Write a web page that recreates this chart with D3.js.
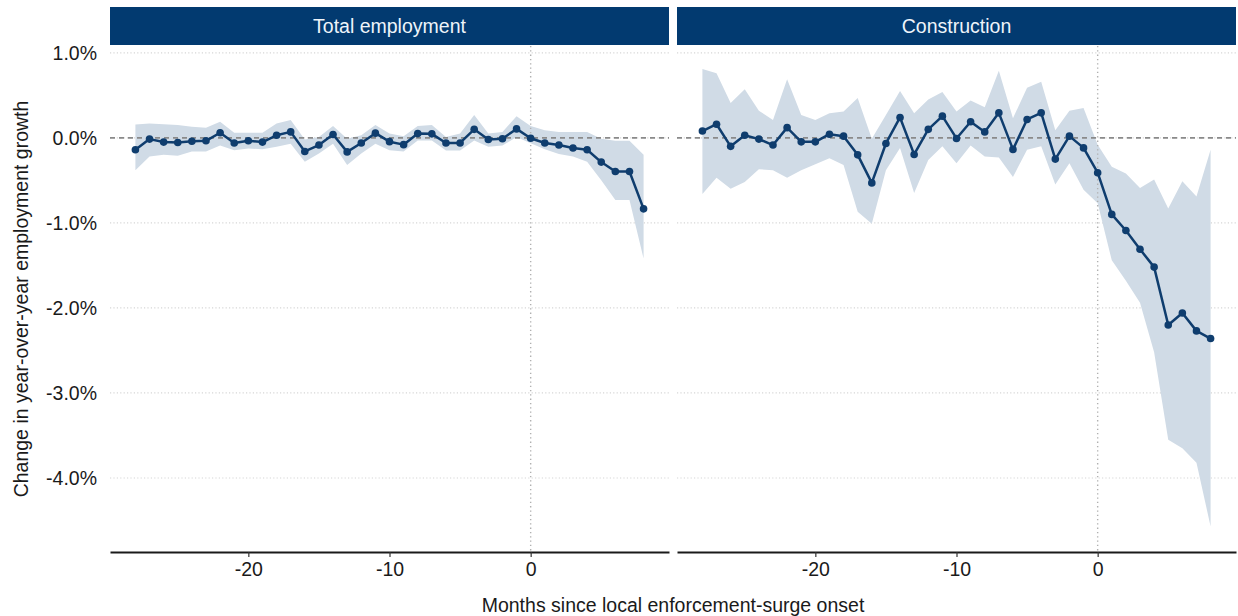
<!DOCTYPE html>
<html>
<head>
<meta charset="utf-8">
<script src="https://cdn.jsdelivr.net/npm/d3@7"></script>
<style>
  html, body { margin: 0; padding: 0; background: #ffffff; }
  svg { display: block; font-family: "Liberation Sans", Arial, sans-serif; }
</style>
</head>
<body>
<svg id="chart" width="1238" height="616"></svg>
<script>
// Event-study estimates: months relative to the enforcement surge
const months = d3.range(-28, 9);

const panelTitles = ["Total employment", "Construction"];

// Total employment: point estimates and 95% band (percentage points)
const totalEst = [-0.14, -0.015, -0.05, -0.055, -0.04, -0.035, 0.06, -0.06, -0.035, -0.05,
  0.03, 0.07, -0.16, -0.085, 0.04, -0.165, -0.06, 0.055, -0.045, -0.08,
  0.05, 0.047, -0.06, -0.06, 0.10, -0.02, -0.01, 0.105, -0.005, -0.06,
  -0.085, -0.12, -0.14, -0.285, -0.395, -0.395, -0.835];
const totalHi = [0.157, 0.17, 0.16, 0.15, 0.13, 0.12, 0.19, 0.06, 0.06, 0.06,
  0.17, 0.21, -0.02, 0.01, 0.14, -0.01, 0.03, 0.15, 0.05, 0.02,
  0.14, 0.15, 0.01, 0.05, 0.27, 0.05, 0.07, 0.255, 0.14, 0.09,
  0.07, 0.07, 0.07, -0.01, -0.035, -0.035, -0.2];
const totalLo = [-0.38, -0.22, -0.2, -0.21, -0.16, -0.16, -0.09, -0.145, -0.125, -0.135,
  -0.105, -0.07, -0.28, -0.185, -0.07, -0.32, -0.185, -0.07, -0.145, -0.16,
  -0.03, -0.03, -0.15, -0.15, -0.03, -0.105, -0.09, 0.01, -0.065, -0.135,
  -0.19, -0.22, -0.28, -0.5, -0.73, -0.73, -1.42];

// Construction: point estimates and 95% band
const constEst = [0.08, 0.16, -0.10, 0.03, -0.015, -0.085, 0.12, -0.047, -0.047, 0.043,
  0.02, -0.2, -0.53, -0.066, 0.24, -0.195, 0.1, 0.255, -0.007, 0.19,
  0.07, 0.294, -0.136, 0.216, 0.294, -0.25, 0.02, -0.118, -0.41, -0.90,
  -1.09, -1.31, -1.52, -2.20, -2.06, -2.27, -2.36];
const constHi = [0.81, 0.76, 0.41, 0.57, 0.32, 0.21, 0.69, 0.27, 0.21, 0.29,
  0.31, 0.47, -0.01, 0.27, 0.55, 0.29, 0.45, 0.54, 0.31, 0.44,
  0.36, 0.79, 0.23, 0.59, 0.66, 0.09, 0.32, 0.35, -0.08, -0.34,
  -0.42, -0.59, -0.49, -0.83, -0.51, -0.69, -0.14];
const constLo = [-0.66, -0.47, -0.60, -0.52, -0.37, -0.38, -0.47, -0.38, -0.31, -0.24,
  -0.32, -0.87, -1.01, -0.38, -0.12, -0.65, -0.26, -0.10, -0.30, -0.09,
  -0.22, -0.23, -0.46, -0.14, -0.10, -0.55, -0.30, -0.61, -0.77, -1.44,
  -1.68, -1.94, -2.52, -3.55, -3.65, -3.82, -4.57];

const xTicks = [-20, -10, 0];
const yTicks = [1, 0, -1, -2, -3, -4];

const xTitle = "Months since local enforcement-surge onset";
const yTitle = "Change in year-over-year employment growth";

// ---- layout & style ----
const navy = "#0f3d6e";
const stripFill = "#023a70";
const bandFill = "#d0dbe6";
const panelBox = [[110, 669], [677, 1236]];
const plotTop = 46, plotBottom = 552;
const stripTop = 7, stripBottom = 45;
const fontSize = 19.5;
const fontFamily = "Liberation Sans, Arial, sans-serif";

const svg = d3.select("#chart");

const y = d3.scaleLinear().domain([-4.87, 1.08]).range([plotBottom, plotTop]);

const panels = [
  { title: panelTitles[0], est: totalEst, hi: totalHi, lo: totalLo },
  { title: panelTitles[1], est: constEst, hi: constHi, lo: constLo }
];

panels.forEach((p, i) => {
  const [x0, x1] = panelBox[i];
  const x = d3.scaleLinear().domain([-29.8, 9.8]).range([x0, x1]);
  const rows = months.map((m, j) => ({ m, v: p.est[j], hi: p.hi[j], lo: p.lo[j] }));
  const g = svg.append("g");

  // horizontal grid
  g.selectAll("line.grid").data(yTicks).join("line")
    .attr("class", "grid")
    .attr("x1", x0).attr("x2", x1)
    .attr("y1", d => y(d)).attr("y2", d => y(d))
    .attr("stroke", "#d6d6d6").attr("stroke-width", 1.2)
    .attr("stroke-dasharray", "1.2,2.2");

  // confidence band
  g.append("path").datum(rows)
    .attr("d", d3.area().x(d => x(d.m)).y0(d => y(d.lo)).y1(d => y(d.hi)))
    .attr("fill", bandFill);

  // zero reference
  g.append("line")
    .attr("x1", x0).attr("x2", x1).attr("y1", y(0)).attr("y2", y(0))
    .attr("stroke", "#8a8a8a").attr("stroke-width", 1.6)
    .attr("stroke-dasharray", "5,4");

  // onset marker
  g.append("line")
    .attr("x1", x(0)).attr("x2", x(0)).attr("y1", plotTop).attr("y2", plotBottom)
    .attr("stroke", "#b0b0b0").attr("stroke-width", 1.4)
    .attr("stroke-dasharray", "1.3,3");

  // estimates
  g.append("path").datum(rows)
    .attr("d", d3.line().x(d => x(d.m)).y(d => y(d.v)))
    .attr("fill", "none").attr("stroke", navy).attr("stroke-width", 2.5)
    .attr("stroke-linejoin", "round");
  g.selectAll("circle").data(rows).join("circle")
    .attr("cx", d => x(d.m)).attr("cy", d => y(d.v)).attr("r", 3.8)
    .attr("fill", navy);

  // facet strip
  g.append("rect")
    .attr("x", x0).attr("y", stripTop)
    .attr("width", x1 - x0).attr("height", stripBottom - stripTop)
    .attr("fill", stripFill);
  g.append("text")
    .attr("x", (x0 + x1) / 2).attr("y", (stripTop + stripBottom) / 2)
    .attr("dy", "0.35em").attr("text-anchor", "middle")
    .attr("fill", "#eef4fa").attr("font-size", fontSize)
    .text(p.title);

  // bottom axis (plain hyphen for negative ticks)
  const ax = g.append("g").attr("transform", `translate(0,${plotBottom})`)
    .call(d3.axisBottom(x).tickValues(xTicks).tickSize(5).tickPadding(5)
      .tickSizeOuter(0).tickFormat(d => String(d)));
  ax.select(".domain").attr("stroke", "#1a1a1a").attr("stroke-width", 1.8);
  ax.selectAll(".tick line").attr("stroke", "#333").attr("stroke-width", 1.2);
  ax.selectAll("text").attr("fill", "#1a1a1a").attr("font-size", fontSize)
    .attr("font-family", fontFamily);

  // left labels only on the first panel
  if (i === 0) {
    const ay = g.append("g").attr("transform", `translate(${x0},0)`)
      .call(d3.axisLeft(y).tickValues(yTicks).tickSize(0).tickPadding(13)
        .tickFormat(d => d.toFixed(1) + "%"));
    ay.select(".domain").remove();
    ay.selectAll("text").attr("fill", "#1a1a1a").attr("font-size", fontSize)
      .attr("font-family", fontFamily);
  }
});

// axis titles
svg.append("text")
  .attr("x", (panelBox[0][0] + panelBox[1][1]) / 2).attr("y", 605)
  .attr("dy", "0.35em").attr("text-anchor", "middle")
  .attr("fill", "#1a1a1a").attr("font-size", fontSize)
  .text(xTitle);

svg.append("text")
  .attr("transform", `translate(21,${(plotTop + plotBottom) / 2}) rotate(-90)`)
  .attr("dy", "0.35em").attr("text-anchor", "middle")
  .attr("fill", "#1a1a1a").attr("font-size", fontSize)
  .text(yTitle);
</script>
</body>
</html>
